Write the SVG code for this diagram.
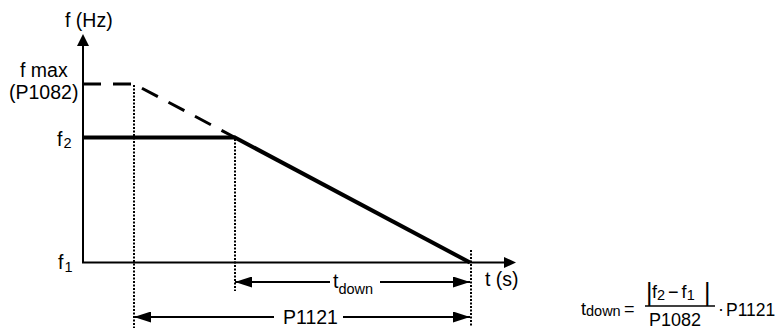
<svg xmlns="http://www.w3.org/2000/svg" width="779" height="329" viewBox="0 0 779 329">
<style>
text{font-family:"Liberation Sans",Arial,sans-serif;fill:#000}
.lbl{font-size:19.5px}
.sub{font-size:14.5px}
.axis{stroke:#000;stroke-width:2;fill:none}
.thick{stroke:#000;stroke-width:4;fill:none}
.dash{stroke:#000;stroke-width:3;fill:none;stroke-dasharray:18 12}
.dot{stroke:#000;stroke-width:2;fill:none;stroke-dasharray:2 1.5}
.dim{stroke:#000;stroke-width:2;fill:none;marker-end:url(#ah)}
</style>
<defs>
<marker id="ah" viewBox="0 0 17 11" refX="17" refY="5.5" markerWidth="17" markerHeight="11" markerUnits="userSpaceOnUse" orient="auto">
<path d="M0,0 L17,5.5 L0,11 z" fill="#000"/>
</marker>
</defs>
<rect width="779" height="329" fill="#fff"/>
<g id="axes">
<polyline class="axis" points="83,45 83,262.5 505,262.5"/>
<polygon points="83,34 77,46 89,46" fill="#000"/>
<polygon points="516,262.5 504,257 504,268" fill="#000"/>
<text class="lbl" x="65" y="27">f (Hz)</text>
<text class="lbl" x="485" y="286">t (s)</text>
</g>
<g id="labels">
<text class="lbl" x="20" y="77">f max</text>
<text class="lbl" x="9" y="99">(P1082)</text>
<text class="lbl" x="57" y="146">f<tspan class="sub" dx="1" dy="2">2</tspan></text>
<text class="lbl" x="58" y="269">f<tspan class="sub" dx="1" dy="3">1</tspan></text>
</g>
<g id="curves">
<polyline class="dash" points="83,84 134,84 235,137.5"/>
<line class="thick" x1="83" y1="137.5" x2="235" y2="137.5"/>
<line class="thick" x1="234" y1="137" x2="470" y2="262.5"/>
</g>
<g id="guides">
<line class="dot" x1="134" y1="85" x2="134" y2="328"/>
<line class="dot" x1="235" y1="139" x2="235" y2="291"/>
<line class="dot" x1="471" y1="250" x2="471" y2="326"/>
</g>
<g id="connectors">
<line class="dim" x1="330" y1="282" x2="235" y2="282"/>
<line class="dim" x1="380" y1="282" x2="470" y2="282"/>
<line class="dim" x1="274" y1="317" x2="134" y2="317"/>
<line class="dim" x1="343" y1="317" x2="470" y2="317"/>
</g>
<g id="dimlabels">
<text class="lbl" x="333" y="288">t<tspan class="sub" dy="6">down</tspan></text>
<text class="lbl" x="283" y="324">P1121</text>
</g>
<g id="formula">
<text x="581" y="315" style="font-size:18px">t<tspan style="font-size:14.5px" dy="1">down</tspan></text>
<text x="624" y="315" style="font-size:18px">=</text>
<line x1="645" y1="306" x2="715" y2="306" stroke="#000" stroke-width="1.3"/>
<text x="646" y="301" style="font-size:25px">|</text>
<text x="652" y="298" style="font-size:18px">f<tspan style="font-size:14.5px" dy="2">2</tspan><tspan dy="-2" dx="3">−</tspan><tspan dx="3">f</tspan><tspan style="font-size:14.5px" dy="2">1</tspan></text>
<text x="704" y="301" style="font-size:25px">|</text>
<text x="649" y="326" style="font-size:18px">P1082</text>
<text x="718" y="315" style="font-size:18px">·</text>
<text x="726" y="316" style="font-size:17.5px">P1121</text>
</g>
</svg>
